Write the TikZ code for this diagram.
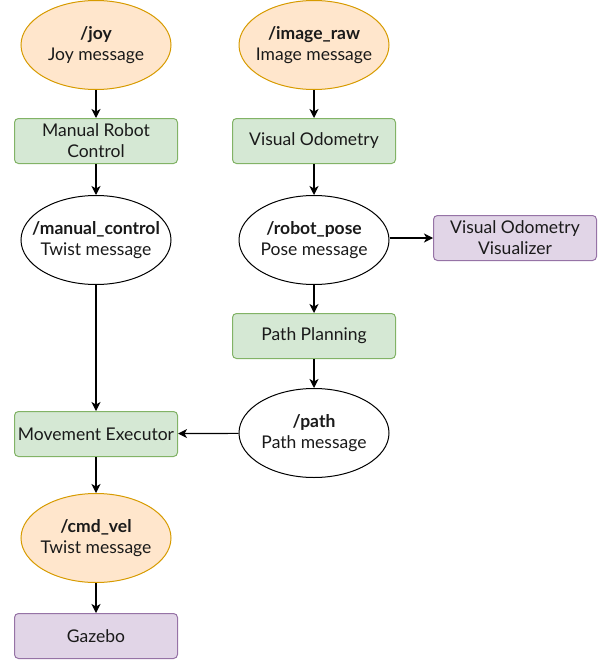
\documentclass[tikz,border=0pt]{standalone}
\usepackage{fontspec}
\setmainfont{Lato}
\usepackage{xcolor}
\usetikzlibrary{arrows.meta,positioning,shapes.geometric}
\definecolor{topicfill}{HTML}{FFE6CC}
\definecolor{topicline}{HTML}{D79B00}
\definecolor{procfill}{HTML}{D5E8D4}
\definecolor{procline}{HTML}{82B366}
\definecolor{simfill}{HTML}{E1D5E7}
\definecolor{simline}{HTML}{9673A6}
\definecolor{inkc}{HTML}{1A1A1A}

\begin{document}
\begin{tikzpicture}[x=1pt,y=-1pt,
  topic/.style={ellipse,draw=topicline,fill=topicfill,line width=1pt,inner xsep=-30pt,inner ysep=0pt,
                minimum width=150pt,minimum height=89pt,align=center,font=\fontsize{17.5}{21}\selectfont,text=inkc},
  msg/.style={topic,draw=black,fill=white},
  proc/.style={rectangle,rounded corners=4pt,draw=procline,fill=procfill,line width=1pt,
               minimum width=163pt,minimum height=45pt,align=center,
               font=\fontsize{17.5}{21}\selectfont,text=inkc},
  sim/.style={proc,draw=simline,fill=simfill},
  flow/.style={-{Stealth[length=9pt,width=9pt,inset=2.5pt]},line width=1.2pt,draw=black}
]
\useasboundingbox (0,0) rectangle (605,661);

% left column
\node[topic] (joy) at (96,45) {\textbf{/joy}\\Joy message};
\node[proc] (manual) at (96,141) {Manual Robot\\Control};
\node[msg] (manualctl) at (96,240) {\textbf{/manual\_control}\\Twist message};
\node[proc] (executor) at (96,434) {Movement Executor};
\node[topic] (cmdvel) at (96,538) {\textbf{/cmd\_vel}\\Twist message};
\node[sim] (gazebo) at (96,636) {Gazebo};

% right column
\node[topic] (image) at (314,45) {\textbf{/image\_raw}\\Image message};
\node[proc] (odom) at (314,141) {Visual Odometry};
\node[msg] (pose) at (314,240) {\textbf{/robot\_pose}\\Pose message};
\node[sim] (viz) at (515,238) {Visual Odometry\\Visualizer};
\node[proc] (planner) at (314,336) {Path Planning};
\node[msg] (path) at (314,433) {\textbf{/path}\\Path message};

\draw[flow] (joy) -- (manual);
\draw[flow] (manual) -- (manualctl);
\draw[flow] (manualctl) -- (executor);
\draw[flow] (executor) -- (cmdvel);
\draw[flow] (cmdvel) -- (gazebo);

\draw[flow] (image) -- (odom);
\draw[flow] (odom) -- (pose);
\draw[flow] (pose.east |- viz) -- (viz);
\draw[flow] (pose) -- (planner);
\draw[flow] (planner) -- (path);
\draw[flow] (path) -- (executor);
\end{tikzpicture}
\end{document}
